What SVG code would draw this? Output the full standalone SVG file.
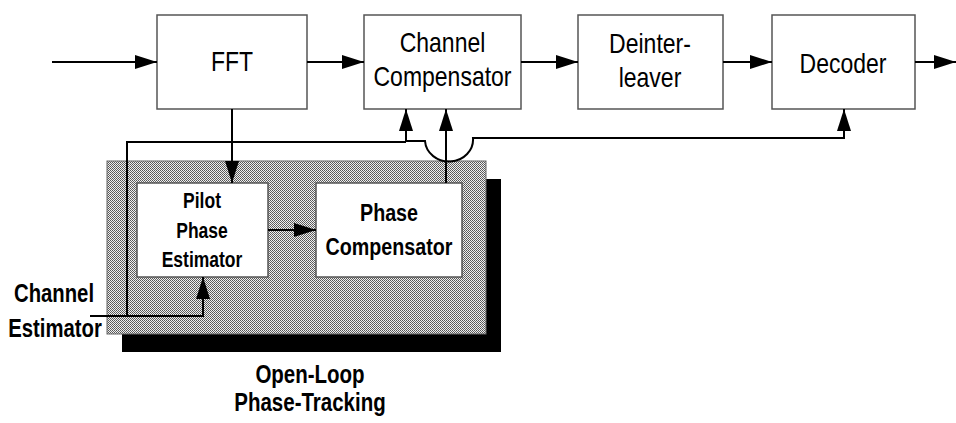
<svg xmlns="http://www.w3.org/2000/svg" width="956" height="423" viewBox="0 0 956 423">
<defs>
<style>
.box{fill:#fff;stroke:#555;stroke-width:1.5}
.ln{fill:none;stroke:#000;stroke-width:2}
.arr{marker-end:url(#ah)}
.t{font-family:"Liberation Sans",Arial,sans-serif;font-size:23px;text-anchor:middle;fill:#000}
.b{font-family:"Liberation Sans",Arial,sans-serif;font-weight:bold;text-anchor:middle;fill:#000}
</style>
<marker id="ah" markerUnits="userSpaceOnUse" markerWidth="22" markerHeight="14" refX="22" refY="7" orient="auto">
<path d="M0,0 L22,7 L0,14 z" fill="#000"/>
</marker>
<pattern id="dots" width="2" height="2" patternUnits="userSpaceOnUse">
<rect width="2" height="2" fill="#f0f0f0"/>
<rect x="0" y="0" width="1" height="1" fill="#555"/>
<rect x="1" y="1" width="1" height="1" fill="#666"/>
</pattern>
</defs>
<rect width="956" height="423" fill="#fff"/>

<g id="open-loop-phase-tracking">
<rect x="122" y="179" width="379" height="173" fill="#000"/>
<rect x="107" y="161" width="379" height="173" fill="url(#dots)" stroke="#666" stroke-width="1"/>
<text class="b" font-size="20.5" transform="translate(310,383) scale(1,1.25)">Open-Loop</text>
<text class="b" font-size="20.5" transform="translate(310,411) scale(1,1.25)">Phase-Tracking</text>
</g>

<g id="fft">
<rect class="box" x="157" y="15" width="150" height="94"/>
<text class="t" transform="translate(232,71) scale(1,1.2)">FFT</text>
</g>
<g id="channel-compensator">
<rect class="box" x="364" y="15" width="157" height="94"/>
<text class="t" transform="translate(442.5,52) scale(1,1.2)">Channel</text>
<text class="t" transform="translate(442.5,86) scale(1,1.2)">Compensator</text>
</g>
<g id="deinterleaver">
<rect class="box" x="578" y="15" width="145" height="94"/>
<text class="t" transform="translate(650,53) scale(1,1.2)">Deinter-</text>
<text class="t" transform="translate(650,87) scale(1,1.2)">leaver</text>
</g>
<g id="decoder">
<rect class="box" x="772" y="15" width="143" height="94"/>
<text class="t" transform="translate(843,73) scale(1,1.2)">Decoder</text>
</g>
<g id="pilot-phase-estimator">
<rect class="box" x="137" y="183" width="131" height="94"/>
<text class="b" font-size="17.5" transform="translate(202,208) scale(1,1.25)">Pilot</text>
<text class="b" font-size="17.5" transform="translate(202,238) scale(1,1.25)">Phase</text>
<text class="b" font-size="17.5" transform="translate(202,267) scale(1,1.25)">Estimator</text>
</g>
<g id="phase-compensator">
<rect class="box" x="316" y="183" width="146" height="94"/>
<text class="b" font-size="19.7" transform="translate(389,221) scale(1,1.25)">Phase</text>
<text class="b" font-size="19.7" transform="translate(389,255) scale(1,1.25)">Compensator</text>
</g>
<g id="channel-estimator">
<text class="b" font-size="20.3" transform="translate(54,302) scale(1,1.3)">Channel</text>
<text class="b" font-size="20.3" transform="translate(55,337) scale(1,1.3)">Estimator</text>
</g>

<g id="connectors">
<path class="ln arr" d="M52,62 H157"/>
<path class="ln arr" d="M307,62 H364"/>
<path class="ln arr" d="M521,62 H578"/>
<path class="ln arr" d="M723,62 H772"/>
<path class="ln arr" d="M915,62 H956"/>
<path class="ln arr" d="M232,109 V183"/>
<path class="ln arr" d="M268,230 H316"/>
<path class="ln arr" d="M446,183 V109"/>
<path class="ln arr" d="M90,316 H203 V277"/>
<path class="ln" d="M127,316 V142 H406"/>
<path class="ln arr" d="M406,142 V109"/>
<path class="ln arr" d="M406,141 H425 A24,22 0 0 0 473,138 H844 V109"/>
</g>
</svg>
